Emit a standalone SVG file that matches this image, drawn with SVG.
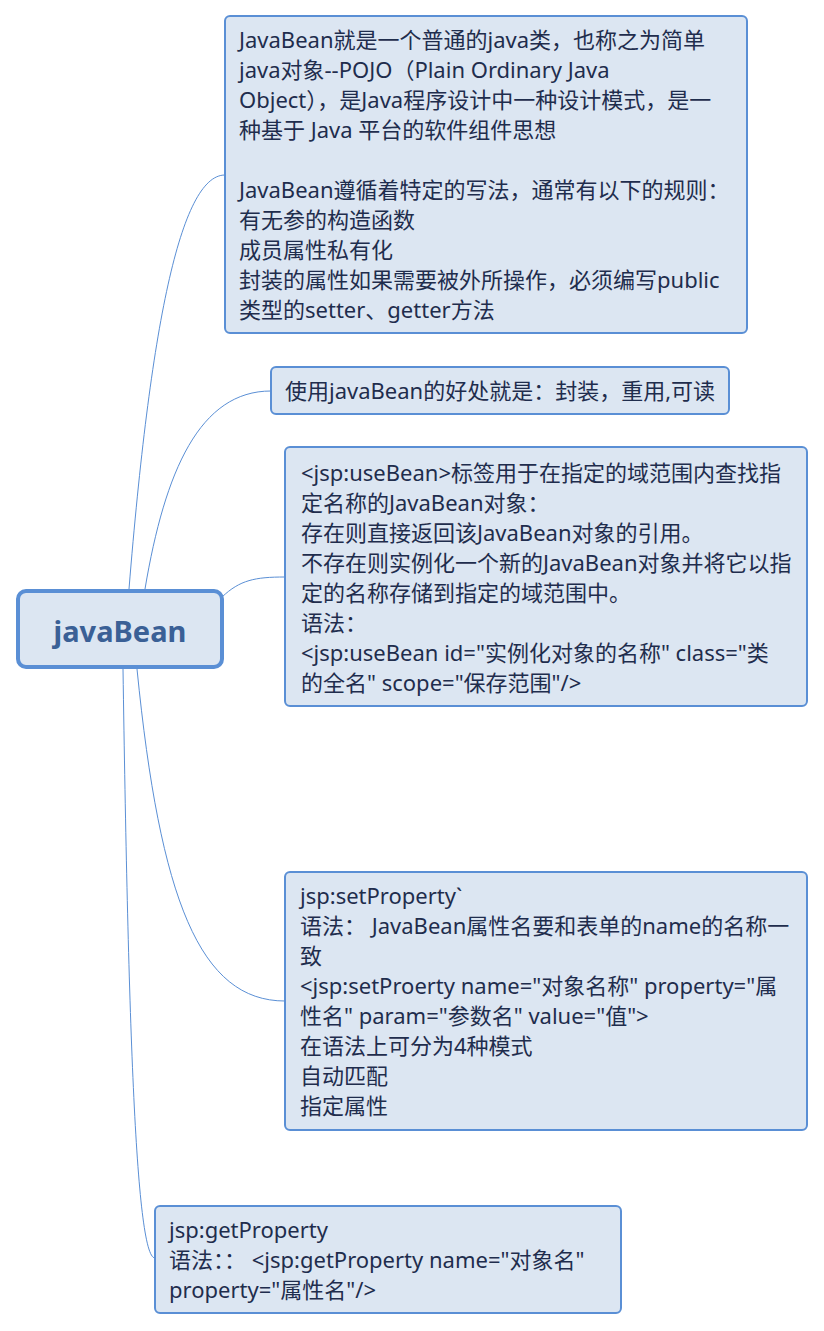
<svg xmlns="http://www.w3.org/2000/svg" width="824" height="1331" viewBox="0 0 824 1331">
<style>
.box{fill:#dce6f2;stroke:#5a8fd5;stroke-width:2}
.root{fill:#dce6f2;stroke:#5a8fd5;stroke-width:4}
.t{font-family:"Noto Sans","Noto Sans CJK SC",sans-serif;font-size:22px;fill:#1f2d4d}
.rt{font-family:"Noto Sans","Noto Sans CJK SC",sans-serif;font-size:29px;font-weight:bold;fill:#3a6096}
.c{fill:none;stroke:#5a8fd5;stroke-width:1}
</style>
<rect width="824" height="1331" fill="#ffffff"/>
<g id="connectors">
<path class="c" d="M129,589 C150,330 180,175 225,175"/>
<path class="c" d="M145,589 C165,470 200,391 271,391"/>
<path class="c" d="M222,597 C240,580 255,577 285,577"/>
<path class="c" d="M137,669 C160,900 200,1001 285,1001"/>
<path class="c" d="M123,669 C128,1000 135,1258 155,1258"/>
</g>
<g id="root">
<rect class="root" x="18" y="591" width="204" height="76" rx="8"/>
<text class="rt" x="120" y="642" text-anchor="middle">javaBean</text>
</g>
<g id="node1">
<rect class="box" x="225" y="16" width="522" height="317" rx="5"/>
<text class="t" x="239" y="48">JavaBean就是一个普通的java类，也称之为简单</text>
<text class="t" x="239" y="78">java对象--POJO（Plain Ordinary Java</text>
<text class="t" x="239" y="108">Object），是Java程序设计中一种设计模式，是一</text>
<text class="t" x="239" y="138">种基于 Java 平台的软件组件思想</text>
<text class="t" x="239" y="198">JavaBean遵循着特定的写法，通常有以下的规则：</text>
<text class="t" x="239" y="228">有无参的构造函数</text>
<text class="t" x="239" y="258">成员属性私有化</text>
<text class="t" x="239" y="288">封装的属性如果需要被外所操作，必须编写public</text>
<text class="t" x="239" y="318">类型的setter、getter方法</text>
</g>
<g id="node2">
<rect class="box" x="271" y="367" width="458" height="47" rx="5"/>
<text class="t" x="285" y="399">使用javaBean的好处就是：封装，重用,可读</text>
</g>
<g id="node3">
<rect class="box" x="285" y="447" width="522" height="259" rx="5"/>
<text class="t" x="301" y="481">&lt;jsp:useBean&gt;标签用于在指定的域范围内查找指</text>
<text class="t" x="301" y="511">定名称的JavaBean对象：</text>
<text class="t" x="301" y="541">存在则直接返回该JavaBean对象的引用。</text>
<text class="t" x="301" y="571">不存在则实例化一个新的JavaBean对象并将它以指</text>
<text class="t" x="301" y="601">定的名称存储到指定的域范围中。</text>
<text class="t" x="301" y="631">语法：</text>
<text class="t" x="301" y="661">&lt;jsp:useBean id="实例化对象的名称" class="类</text>
<text class="t" x="301" y="691">的全名" scope="保存范围"/&gt;</text>
</g>
<g id="node4">
<rect class="box" x="285" y="872" width="522" height="258" rx="5"/>
<text class="t" x="300" y="904">jsp:setProperty`</text>
<text class="t" x="300" y="934">语法： JavaBean属性名要和表单的name的名称一</text>
<text class="t" x="300" y="964">致</text>
<text class="t" x="300" y="994">&lt;jsp:setProerty name="对象名称" property="属</text>
<text class="t" x="300" y="1024">性名" param="参数名" value="值"&gt;</text>
<text class="t" x="300" y="1054">在语法上可分为4种模式</text>
<text class="t" x="300" y="1084">自动匹配</text>
<text class="t" x="300" y="1114">指定属性</text>
</g>
<g id="node5">
<rect class="box" x="155" y="1206" width="466" height="107" rx="5"/>
<text class="t" x="169" y="1238">jsp:getProperty</text>
<text class="t" x="169" y="1268">语法：： &lt;jsp:getProperty name="对象名"</text>
<text class="t" x="169" y="1298">property="属性名"/&gt;</text>
</g>
</svg>
